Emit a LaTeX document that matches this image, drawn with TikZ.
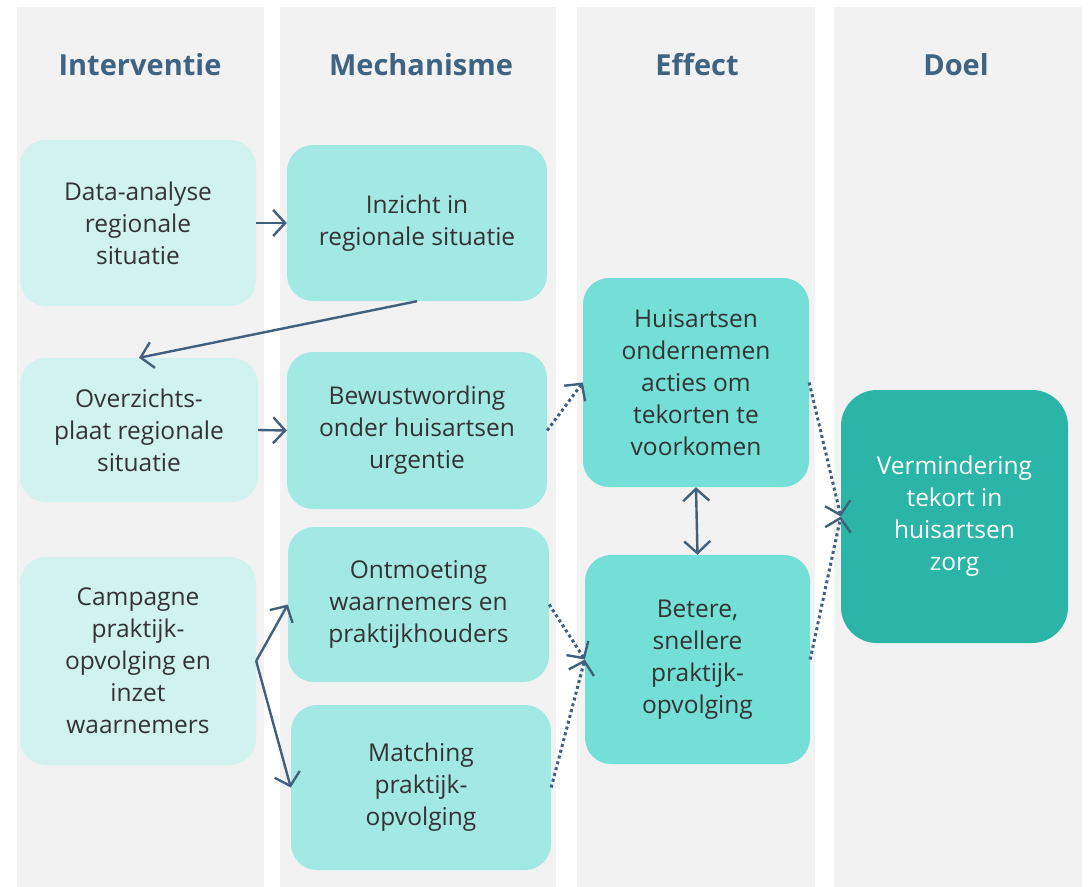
\documentclass[tikz,border=0pt]{standalone}
\usepackage{fontspec}
\setmainfont{Open Sans}
\usetikzlibrary{arrows.meta}
\definecolor{colbg}{HTML}{F2F2F2}
\definecolor{cA}{HTML}{D1F3F0}
\definecolor{cB}{HTML}{A3E9E3}
\definecolor{cC}{HTML}{74DFD6}
\definecolor{cD}{HTML}{2BB4A8}
\definecolor{arr}{HTML}{41607D}
\definecolor{head}{HTML}{3F6383}
\definecolor{txt}{HTML}{333333}
\begin{document}
\begin{tikzpicture}[x=1pt,y=-1pt,
  colrect/.style={fill=colbg,draw=none},
  hdr/.style={font=\fontsize{29}{33}\selectfont\bfseries,text=head,anchor=center},
  bx/.style={rectangle,rounded corners=26pt,draw=none,inner sep=0pt,align=center,text=txt,
     font=\fontsize{24.5}{32}\selectfont},
  solidarr/.style={draw=arr,line width=2.4pt,-{Straight Barb[length=12pt,width=26pt,line width=2.4pt]}},
  dotarr/.style={draw=arr,line width=3pt,dash pattern=on 3pt off 3pt,-{Straight Barb[length=12pt,width=26pt,line width=2.4pt]}},
  dblarr/.style={draw=arr,line width=2.4pt,{Straight Barb[length=12pt,width=26pt,line width=2.4pt]}-{Straight Barb[length=12pt,width=26pt,line width=2.4pt]}}
]
\useasboundingbox (0,0) rectangle (1088,887);
\fill[white] (0,0) rectangle (1088,887);
% columns
\fill[colrect] (17,7) rectangle (264,887);
\fill[colrect] (280,7) rectangle (556,887);
\fill[colrect] (577,7) rectangle (815,887);
\fill[colrect] (834,7) rectangle (1082,887);
% headers
\node[hdr] (h1) at (140,65) {Interventie};
\node[hdr] (h2) at (421,65) {Mechanisme};
\node[hdr] (h3) at (697,65) {Effect};
\node[hdr] (h4) at (956,65) {Doel};
% column 1
\node[bx,fill=cA,minimum width=236pt,minimum height=166pt] (data) at (138,223) {Data-analyse\\regionale\\situatie};
\node[bx,fill=cA,minimum width=238pt,minimum height=144pt] (overz) at (139,430) {Overzichts-\\plaat regionale\\situatie};
\node[bx,fill=cA,minimum width=236pt,minimum height=208pt] (camp) at (138,661) {Campagne\\praktijk-\\opvolging en\\inzet\\waarnemers};
% column 2
\node[bx,fill=cB,minimum width=260pt,minimum height=156pt] (inz) at (417,223) {Inzicht in\\regionale situatie};
\node[bx,fill=cB,minimum width=260pt,minimum height=157pt] (bew) at (417,430.5) {Bewustwording\\onder huisartsen\\urgentie};
\node[bx,fill=cB,minimum width=261pt,minimum height=155pt] (ontm) at (418.5,604.5) {Ontmoeting\\waarnemers en\\praktijkhouders};
\node[bx,fill=cB,minimum width=260pt,minimum height=165pt] (match) at (421,787.5) {Matching\\praktijk-\\opvolging};
% column 3
\node[bx,fill=cC,minimum width=226pt,minimum height=209pt] (huis) at (696,382.5) {Huisartsen\\ondernemen\\acties om\\tekorten te\\voorkomen};
\node[bx,fill=cC,minimum width=225pt,minimum height=209pt] (bet) at (697.5,659.5) {Betere,\\snellere\\praktijk-\\opvolging};
% column 4
\node[bx,fill=cD,rounded corners=36pt,text=white,minimum width=227pt,minimum height=253pt] (verm) at (954.5,516.5) {Vermindering\\tekort in\\huisartsen\\zorg};
% connectors
\draw[solidarr] (data.east) -- (inz.west);
\draw[solidarr] (inz.south) -- (overz.north);
\draw[solidarr] (overz.east) -- (bew.west);
\coordinate (split) at (camp.east);
\draw[solidarr] (split) -- (ontm.west);
\draw[solidarr] (split) -- (match.west);
\draw[dotarr] (bew.east) -- (huis.west);
\draw[dotarr] (ontm.east) -- (bet.west);
\draw[dotarr] (match.east) -- (bet.west);
\draw[dotarr] (huis.east) -- (verm.west);
\draw[dotarr] (bet.east) -- (verm.west);
\draw[dblarr] (huis.south) -- (bet.north);
\end{tikzpicture}
\end{document}
